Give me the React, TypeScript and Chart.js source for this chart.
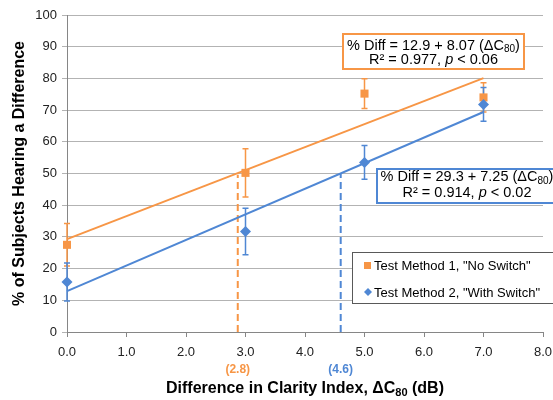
import React, { useEffect, useRef } from 'react';
import { Chart, registerables } from 'chart.js';

Chart.register(...registerables);

// ---- data ----
const xValues = [0, 3, 5, 7];
const noSwitchY = [27.5, 50.2, 75.2, 74.0];
const noSwitchErr = [6.7, 7.6, 4.7, 4.6];
const withSwitchY = [15.8, 31.7, 53.5, 71.8];
const withSwitchErr = [6.0, 7.3, 5.3, 5.3];
const trendX = [0, 7];
const noSwitchTrend = [29.3, 80.1];
const withSwitchTrend = [12.9, 69.4];
const crossX = [2.87, 4.6];
const crossTop = [49.6, 50.0];
const crossLabels = ['(2.8)', '(4.6)'];
const seriesNames = ['Test Method 1, "No Switch"', 'Test Method 2, "With Switch"'];
const box1Lines = ['% Diff = 12.9 + 8.07 (\u0394C', '80', ')', 'R\u00B2 = 0.977, ', 'p', ' < 0.06'];
const box2Lines = ['% Diff = 29.3 + 7.25 (\u0394C', '80', ')', 'R\u00B2 = 0.914, ', 'p', ' < 0.02'];

const ORANGE = '#F79646';
const BLUE = '#4F87D4';
const FONT = "'Liberation Sans', Arial, sans-serif";

type Seg = { text: string; font: string; dy?: number };

function drawRich(ctx: CanvasRenderingContext2D, segs: Seg[], cx: number, y: number, color: string) {
  let total = 0;
  const widths = segs.map((s) => {
    ctx.font = s.font;
    const w = ctx.measureText(s.text).width;
    total += w;
    return w;
  });
  let x = cx - total / 2;
  ctx.fillStyle = color;
  ctx.textBaseline = 'middle';
  ctx.textAlign = 'left';
  segs.forEach((s, i) => {
    ctx.font = s.font;
    ctx.fillText(s.text, x, y + (s.dy || 0));
    x += widths[i];
  });
}

function boxSegs(lines: string[]): [Seg[], Seg[]] {
  const f = `14.5px ${FONT}`;
  const fs = `10px ${FONT}`;
  const fi = `italic 14.5px ${FONT}`;
  return [
    [
      { text: lines[0], font: f },
      { text: lines[1], font: fs, dy: 4 },
      { text: lines[2], font: f },
    ],
    [
      { text: lines[3], font: f },
      { text: lines[4], font: fi },
      { text: lines[5], font: f },
    ],
  ];
}

const overlayPlugin = {
  id: 'overlay',
  beforeDatasetsDraw(chart: any) {
    const ctx: CanvasRenderingContext2D = chart.ctx;
    const xs = chart.scales.x;
    const ys = chart.scales.y;
    // dashed crossing lines
    [ORANGE, BLUE].forEach((c, i) => {
      ctx.save();
      ctx.strokeStyle = c;
      ctx.lineWidth = 2;
      ctx.setLineDash([7, 4]);
      const px = xs.getPixelForValue(crossX[i]);
      ctx.beginPath();
      ctx.moveTo(px, ys.getPixelForValue(0));
      ctx.lineTo(px, ys.getPixelForValue(crossTop[i]));
      ctx.stroke();
      ctx.restore();
    });
    // error bars
    const bars = [
      { y: noSwitchY, e: noSwitchErr, c: ORANGE },
      { y: withSwitchY, e: withSwitchErr, c: BLUE },
    ];
    bars.forEach((b) => {
      ctx.save();
      ctx.strokeStyle = b.c;
      ctx.lineWidth = 1.5;
      xValues.forEach((xv, i) => {
        const px = xs.getPixelForValue(xv);
        const t = ys.getPixelForValue(b.y[i] + b.e[i]);
        const bt = ys.getPixelForValue(b.y[i] - b.e[i]);
        ctx.beginPath();
        ctx.moveTo(px, t);
        ctx.lineTo(px, bt);
        ctx.moveTo(px - 3, t);
        ctx.lineTo(px + 3, t);
        ctx.moveTo(px - 3, bt);
        ctx.lineTo(px + 3, bt);
        ctx.stroke();
      });
      ctx.restore();
    });
  },
  afterDraw(chart: any) {
    const ctx: CanvasRenderingContext2D = chart.ctx;
    const xs = chart.scales.x;
    const area = chart.chartArea;
    ctx.save();
    // crossing labels
    ctx.font = `bold 12px ${FONT}`;
    ctx.textAlign = 'center';
    ctx.textBaseline = 'middle';
    [ORANGE, BLUE].forEach((c, i) => {
      ctx.fillStyle = c;
      ctx.fillText(crossLabels[i], xs.getPixelForValue(crossX[i]), 370);
    });
    // x title
    drawRich(
      ctx,
      [
        { text: 'Difference in Clarity Index, \u0394C', font: `bold 16px ${FONT}` },
        { text: '80', font: `bold 11px ${FONT}`, dy: 4 },
        { text: ' (dB)', font: `bold 16px ${FONT}` },
      ],
      (area.left + area.right) / 2,
      389,
      '#000'
    );
    const drawBox = (l: number, t: number, r: number, b: number, color: string, lines: string[], cx: number, y1: number, y2: number) => {
      ctx.fillStyle = '#fff';
      ctx.fillRect(l, t, r - l, b - t);
      ctx.strokeStyle = color;
      ctx.lineWidth = 2;
      ctx.strokeRect(l, t, r - l, b - t);
      const [s1, s2] = boxSegs(lines);
      drawRich(ctx, s1, cx, y1, '#000');
      drawRich(ctx, s2, cx, y2, '#000');
    };
    drawBox(343, 34, 524, 69, ORANGE, box1Lines, 433.5, 45.5, 60);
    drawBox(377, 169, 562, 203, BLUE, box2Lines, 467, 177, 192.5);
    // legend
    ctx.fillStyle = '#fff';
    ctx.fillRect(352, 252, 215, 51);
    ctx.strokeStyle = '#595959';
    ctx.lineWidth = 1;
    ctx.strokeRect(352.5, 252.5, 215, 51);
    ctx.fillStyle = ORANGE;
    ctx.fillRect(364, 262, 7, 7);
    ctx.fillStyle = BLUE;
    ctx.beginPath();
    ctx.moveTo(368, 288);
    ctx.lineTo(372, 292);
    ctx.lineTo(368, 296);
    ctx.lineTo(364, 292);
    ctx.closePath();
    ctx.fill();
    ctx.fillStyle = '#000';
    ctx.font = `13px ${FONT}`;
    ctx.textAlign = 'left';
    ctx.textBaseline = 'middle';
    ctx.fillText(seriesNames[0], 374, 266);
    ctx.fillText(seriesNames[1], 374, 293);
    ctx.restore();
  },
};

export default function App() {
  const ref = useRef<HTMLCanvasElement | null>(null);
  useEffect(() => {
    if (!ref.current) return;
    const chart = new Chart(ref.current, {
      type: 'scatter',
      data: {
        datasets: [
          {
            type: 'line',
            label: 'trend1',
            data: trendX.map((x, i) => ({ x, y: noSwitchTrend[i] })),
            borderColor: ORANGE,
            borderWidth: 2,
            pointRadius: 0,
            showLine: true,
            clip: false,
            order: 4,
          } as any,
          {
            type: 'line',
            label: 'trend2',
            data: trendX.map((x, i) => ({ x, y: withSwitchTrend[i] })),
            borderColor: BLUE,
            borderWidth: 2,
            pointRadius: 0,
            showLine: true,
            clip: false,
            order: 3,
          } as any,
          {
            label: seriesNames[0],
            data: xValues.map((x, i) => ({ x, y: noSwitchY[i] })),
            pointStyle: 'rect',
            pointRadius: 5.7,
            backgroundColor: ORANGE,
            borderColor: ORANGE,
            borderWidth: 0,
            clip: false,
            order: 2,
          } as any,
          {
            label: seriesNames[1],
            data: xValues.map((x, i) => ({ x, y: withSwitchY[i] })),
            pointStyle: 'rectRot',
            pointRadius: 5.5,
            backgroundColor: BLUE,
            borderColor: BLUE,
            borderWidth: 0,
            clip: false,
            order: 1,
          } as any,
        ],
      },
      options: {
        animation: false,
        responsive: false,
        layout: { padding: { left: 10, right: 27, top: 15, bottom: 0 } },
        plugins: { legend: { display: false }, tooltip: { enabled: false } },
        scales: {
          x: {
            type: 'linear',
            min: 0,
            max: 8,
            ticks: {
              stepSize: 1,
              color: '#222',
              font: { family: FONT, size: 13 },
              padding: 8,
              callback: (v: any) => Number(v).toFixed(1),
            },
            grid: { drawOnChartArea: false, drawTicks: true, tickLength: 5, color: '#868686' },
            border: { color: '#868686', width: 1 },
            afterFit: (s: any) => {
              s.height = 68;
            },
          },
          y: {
            min: 0,
            max: 100,
            ticks: { stepSize: 10, color: '#222', font: { family: FONT, size: 13 }, padding: 5 },
            grid: { color: '#b3b3b3', tickLength: 5 },
            border: { color: '#868686', width: 1 },
            title: {
              display: true,
              text: '% of Subjects Hearing a Difference',
              color: '#000',
              font: { family: FONT, size: 16, weight: 'bold' },
              padding: 0,
            },
            afterFit: (s: any) => {
              s.width = 57;
            },
          },
        },
      },
      plugins: [overlayPlugin],
    });
    return () => chart.destroy();
  }, []);
  return (
    <div style={{ position: 'fixed', left: 0, top: 0, width: 553, height: 400, overflow: 'hidden', background: '#fff' }}>
      <canvas ref={ref} width={570} height={400} style={{ display: 'block' }} />
    </div>
  );
}
